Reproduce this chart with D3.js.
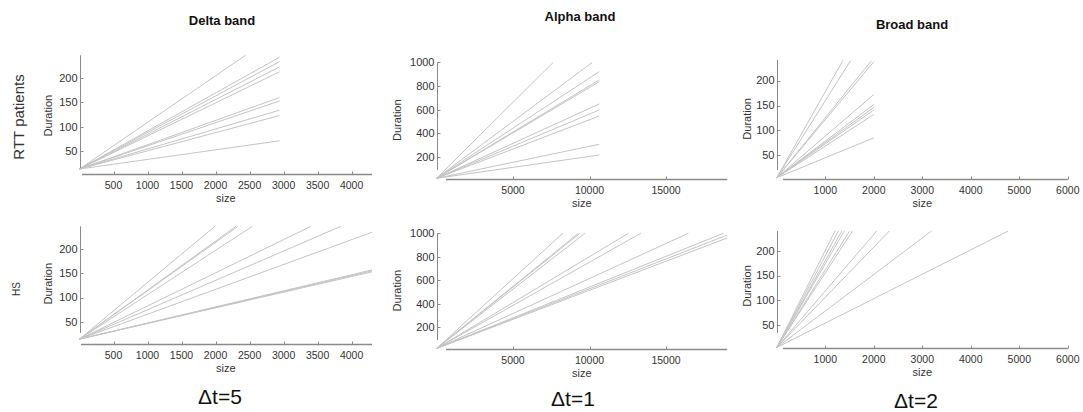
<!DOCTYPE html>
<html>
<head>
<meta charset="utf-8">
<script src="https://cdn.jsdelivr.net/npm/d3@7"></script>
<style>
body { margin: 0; background: #fff; }
text { font-family: "Liberation Sans", Arial, sans-serif; fill: #333; }
</style>
</head>
<body>
<div id="chart"></div>
<script>
var width = 1083;
var height = 412;

// line end points, every line starts at the panel's start point
var deltaRttStart = [0, 13];
var deltaRttEnds = [[2440, 247], [2940, 243], [2940, 234], [2940, 223], [2940, 213],
    [2940, 160], [2940, 153], [2940, 134], [2940, 123], [2940, 71]];

var alphaRttStart = [0, 20];
var alphaRttEnds = [[7630, 1000], [10180, 1000], [10640, 922], [10640, 852], [10640, 837],
    [10640, 649], [10640, 598], [10640, 547], [10640, 308], [10640, 217]];

var broadRttStart = [0, 5];
var broadRttEnds = [[1360, 240], [1520, 240], [1950, 240], [2000, 238], [2000, 172],
    [2000, 152], [2000, 146], [2000, 141], [2000, 132], [2000, 85]];

var deltaHsStart = [0, 14];
var deltaHsEnds = [[1990, 247], [2300, 247], [2330, 247], [2540, 247], [3400, 247],
    [3840, 247], [4300, 235], [4300, 157], [4300, 155], [4300, 153]];

var alphaHsStart = [0, 20];
var alphaHsEnds = [[8250, 1000], [9270, 1000], [9380, 1000], [9700, 1000], [12540, 1000],
    [13350, 1000], [16460, 1000], [18750, 1000], [19000, 985], [19000, 960]];

var broadHsStart = [0, 5];
var broadHsEnds = [[1200, 240], [1270, 240], [1340, 240], [1390, 240], [1500, 240],
    [1560, 240], [2060, 240], [2320, 240], [3190, 240], [4770, 240]];

// tick values
var deltaXTicks = [500, 1000, 1500, 2000, 2500, 3000, 3500, 4000];
var alphaXTicks = [5000, 10000, 15000];
var broadXTicks = [1000, 2000, 3000, 4000, 5000, 6000];
var smallYTicks = [50, 100, 150, 200];
var alphaYTicks = [200, 400, 600, 800, 1000];

var bandTitles = ["Delta band", "Alpha band", "Broad band"];
var groupLabels = ["RTT patients", "HS"];
var stepLabels = ["\u0394t=5", "\u0394t=1", "\u0394t=2"];

var svg = d3.select("#chart").append("svg")
    .attr("width", width)
    .attr("height", height);

// panel layout (pixels)
var panels = [
    {start: deltaRttStart, ends: deltaRttEnds, xDom: [0, 4300], yDom: [13, 247], xr: [79.5, 372], yr: [169, 55.3],
        axisY: 173.7, axisX0: 82, yBottom: 168, xTicks: deltaXTicks, yTicks: smallYTicks, durDx: -32},
    {start: alphaRttStart, ends: alphaRttEnds, xDom: [0, 19000], yDom: [20, 1000], xr: [436.5, 727.2], yr: [178.3, 62.4],
        axisY: 178.5, axisX0: 446, yBottom: 170, xTicks: alphaXTicks, yTicks: alphaYTicks, durDx: -40},
    {start: broadRttStart, ends: broadRttEnds, xDom: [0, 6000], yDom: [5, 242], xr: [776.8, 1067.8], yr: [177.7, 59.7],
        axisY: 179.3, axisX0: 783, yBottom: 170, xTicks: broadXTicks, yTicks: smallYTicks, durDx: -30},
    {start: deltaHsStart, ends: deltaHsEnds, xDom: [0, 4300], yDom: [14, 247], xr: [79.5, 372], yr: [339.1, 226.4],
        axisY: 344, axisX0: 81, yBottom: 333, xTicks: deltaXTicks, yTicks: smallYTicks, durDx: -32},
    {start: alphaHsStart, ends: alphaHsEnds, xDom: [0, 19000], yDom: [20, 1000], xr: [436.5, 727.2], yr: [348.5, 233.3],
        axisY: 349, axisX0: 446, yBottom: 340, xTicks: alphaXTicks, yTicks: alphaYTicks, durDx: -40},
    {start: broadHsStart, ends: broadHsEnds, xDom: [0, 6000], yDom: [5, 240], xr: [776.8, 1067.8], yr: [347.5, 231],
        axisY: 348.3, axisX0: 783, yBottom: 333, xTicks: broadXTicks, yTicks: smallYTicks, durDx: -30}
];

panels.forEach(function (p) {
    var x = d3.scaleLinear().domain(p.xDom).range(p.xr);
    var y = d3.scaleLinear().domain(p.yDom).range(p.yr);
    var g = svg.append("g");
    var y0 = Math.round(x(0)) + 0.5;

    // data lines
    var line = d3.line().x(function (d) { return x(d[0]); }).y(function (d) { return y(d[1]); });
    g.selectAll("path.l")
        .data(p.ends)
        .enter().append("path")
        .attr("class", "l")
        .attr("d", function (d) { return line([p.start, d]); })
        .attr("fill", "none")
        .attr("stroke", "#c4c4c4")
        .attr("stroke-width", 1);

    // y axis
    g.append("line")
        .attr("x1", y0).attr("x2", y0)
        .attr("y1", y(p.yDom[1])).attr("y2", p.yBottom)
        .attr("stroke", "#8a8a8a");
    g.selectAll("line.yt")
        .data(p.yTicks)
        .enter().append("line")
        .attr("class", "yt")
        .attr("x1", y0).attr("x2", y0 + 3)
        .attr("y1", function (d) { return Math.round(y(d)) + 0.5; })
        .attr("y2", function (d) { return Math.round(y(d)) + 0.5; })
        .attr("stroke", "#8a8a8a");
    g.selectAll("text.yt")
        .data(p.yTicks)
        .enter().append("text")
        .attr("class", "yt")
        .attr("x", y0 - 3)
        .attr("y", function (d) { return y(d); })
        .attr("dy", "0.35em")
        .attr("text-anchor", "end")
        .attr("font-size", 11)
        .text(function (d) { return d; });

    // x axis
    var ay = Math.round(p.axisY) + 0.5;
    g.append("line")
        .attr("x1", p.axisX0).attr("x2", p.xr[1])
        .attr("y1", ay).attr("y2", ay)
        .attr("stroke", "#8a8a8a")
        .attr("stroke-width", 1.3);
    g.selectAll("line.xt")
        .data(p.xTicks)
        .enter().append("line")
        .attr("class", "xt")
        .attr("x1", function (d) { return Math.round(x(d)) + 0.5; })
        .attr("x2", function (d) { return Math.round(x(d)) + 0.5; })
        .attr("y1", ay).attr("y2", ay - 3)
        .attr("stroke", "#8a8a8a");
    g.selectAll("text.xt")
        .data(p.xTicks)
        .enter().append("text")
        .attr("class", "xt")
        .attr("x", function (d) { return x(d); })
        .attr("y", ay + 14)
        .attr("text-anchor", "middle")
        .attr("font-size", 10.5)
        .text(function (d) { return d; });

    // axis titles
    g.append("text")
        .attr("x", (p.xr[0] + p.xr[1]) / 2)
        .attr("y", ay + 27)
        .attr("text-anchor", "middle")
        .attr("font-size", 11)
        .text("size");
    var midY = (y(p.yDom[1]) + p.yBottom) / 2 + 4;
    g.append("text")
        .attr("transform", "translate(" + (y0 + p.durDx) + "," + midY + ") rotate(-90)")
        .attr("text-anchor", "middle")
        .attr("dy", "0.35em")
        .attr("font-size", 11)
        .text("Duration");
});

// column titles
var titlePos = [[222, 25], [580, 21], [912, 29]];
svg.selectAll("text.title")
    .data(bandTitles)
    .enter().append("text")
    .attr("class", "title")
    .attr("x", function (d, i) { return titlePos[i][0]; })
    .attr("y", function (d, i) { return titlePos[i][1]; })
    .attr("text-anchor", "middle")
    .attr("font-size", 13)
    .attr("font-weight", "bold")
    .style("fill", "#111")
    .text(function (d) { return d; });

// row labels
var rowPos = [[18.5, 117, 15], [16, 289, 10]];
svg.selectAll("text.row")
    .data(groupLabels)
    .enter().append("text")
    .attr("class", "row")
    .attr("transform", function (d, i) { return "translate(" + rowPos[i][0] + "," + rowPos[i][1] + ") rotate(-90)"; })
    .attr("text-anchor", "middle")
    .attr("dy", "0.35em")
    .attr("font-size", function (d, i) { return rowPos[i][2]; })
    .text(function (d) { return d; });

// delta t labels
var stepPos = [[220, 404], [573, 406], [916, 408]];
svg.selectAll("text.step")
    .data(stepLabels)
    .enter().append("text")
    .attr("class", "step")
    .attr("x", function (d, i) { return stepPos[i][0]; })
    .attr("y", function (d, i) { return stepPos[i][1]; })
    .attr("text-anchor", "middle")
    .attr("font-size", 21)
    .style("fill", "#111")
    .text(function (d) { return d; });
</script>
</body>
</html>
